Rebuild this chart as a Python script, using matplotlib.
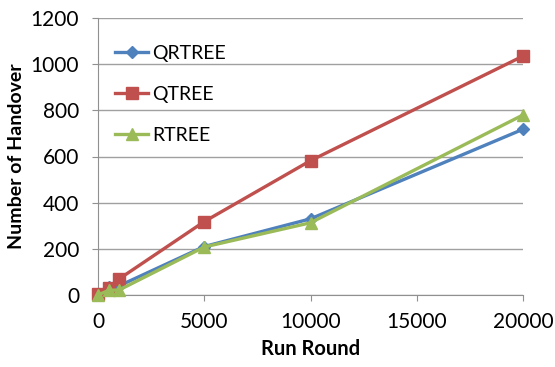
import matplotlib
matplotlib.use("Agg")
import matplotlib.pyplot as plt

plt.rcParams['font.family'] = ['Lato', 'DejaVu Sans']

rounds = [0, 500, 1000, 5000, 10000, 20000]
qrtree = [5, 35, 40, 210, 330, 718]
qtree = [5, 30, 70, 318, 582, 1035]
rtree = [0, 20, 22, 208, 313, 780]

fig = plt.figure(figsize=(5.55, 3.67), dpi=100)
ax = fig.add_axes([98/555, 1-295/367, (523-98)/555, (295-18)/367])

ax.plot(rounds, qrtree, color='#4F81BD', marker='D', markersize=6.5, lw=2.4, label='QRTREE', clip_on=False, zorder=3)
ax.plot(rounds, qtree, color='#C0504D', marker='s', markersize=8.5, lw=2.4, label='QTREE', clip_on=False, zorder=3)
ax.plot(rounds, rtree, color='#9BBB59', marker='^', markersize=9, lw=2.4, label='RTREE', clip_on=False, zorder=4)

ax.set_xlim(0, 20000)
ax.set_ylim(0, 1200)
ax.set_xticks([0, 5000, 10000, 15000, 20000])
ax.set_yticks(range(0, 1201, 200))
ax.grid(axis='y', color='#A0A0A0', lw=1)
ax.set_axisbelow(True)
for s in ['top', 'right']:
    ax.spines[s].set_visible(False)
for s in ['left', 'bottom']:
    ax.spines[s].set_color('#909090')
ax.tick_params(colors='#909090', labelcolor='black', labelsize=15, length=4.5)
ax.tick_params(axis='x', pad=8)
ax.tick_params(axis='y', pad=9)
ax.set_xlabel('Run Round', fontsize=14.5, fontweight='bold', labelpad=5)
ax.set_ylabel('Number of Handover', fontsize=14, fontweight='bold', labelpad=4)

ax.legend(loc='upper left', bbox_to_anchor=(0.04, 0.902), frameon=False,
          prop={'family': ['Liberation Sans Narrow', 'Lato', 'DejaVu Sans'], 'size': 14},
          labelspacing=1.22, handlelength=1.7, handletextpad=0.2, borderpad=0, borderaxespad=0)

fig.savefig('out.png', dpi=100)
